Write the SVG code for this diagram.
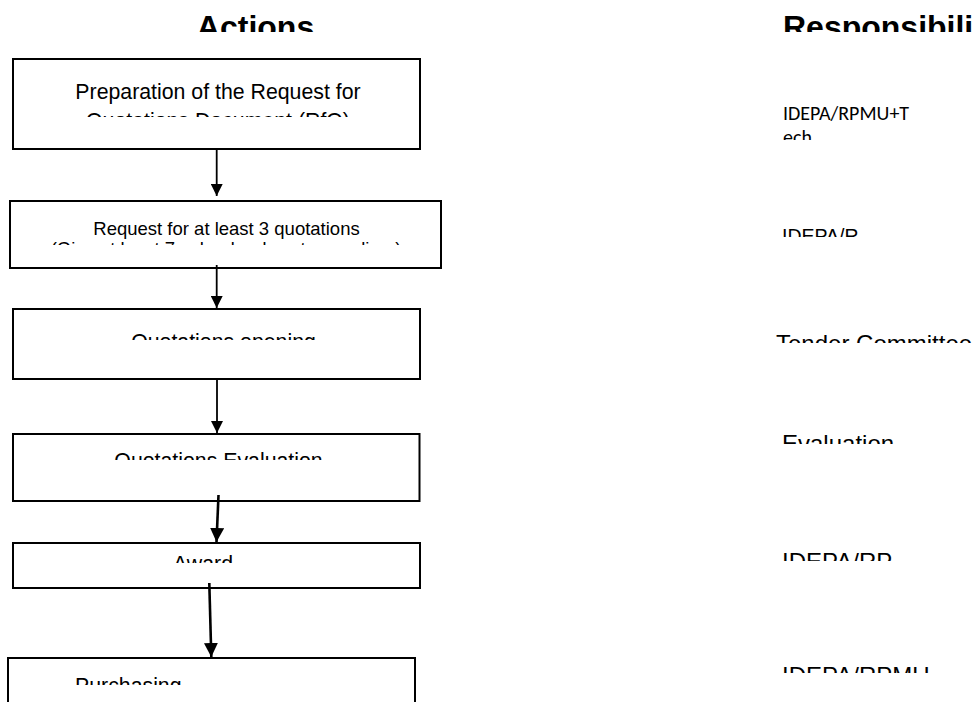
<svg xmlns="http://www.w3.org/2000/svg" width="978" height="702" viewBox="0 0 978 702">
  <style>
    .box { fill: #ffffff; stroke: #000000; stroke-width: 2; }
    .head { font-family: "Liberation Sans", Arial, sans-serif; font-weight: bold; font-size: 32px; fill: #000000; }
    .lbl { font-family: "Liberation Sans", Arial, sans-serif; font-size: 21.3px; fill: #000000; }
    .lbl-s { font-family: "Liberation Sans", Arial, sans-serif; font-size: 18.5px; fill: #000000; }
    .resp { font-family: "Liberation Sans", Arial, sans-serif; font-size: 24px; fill: #000000; }
    .resp-s { font-family: "Liberation Sans", Arial, sans-serif; font-size: 19.5px; fill: #000000; }
    .resp-c { font-family: Carlito, Lato, "Open Sans", sans-serif; font-size: 20px; fill: #000000; }
    .flow { fill: none; stroke: #000000; stroke-width: 1.8; marker-end: url(#head); }
    .flow-b { fill: none; stroke: #000000; stroke-width: 2.6; marker-end: url(#head-b); }
  </style>
  <defs>
    <marker id="head" viewBox="0 0 12 12" refX="12" refY="6" markerWidth="12" markerHeight="12" markerUnits="userSpaceOnUse" orient="auto">
      <path d="M0,0 L12,6 L0,12 Z" fill="#000000"/>
    </marker>
    <marker id="head-b" viewBox="0 0 12 12" refX="12" refY="6" markerWidth="14" markerHeight="14" markerUnits="userSpaceOnUse" orient="auto">
      <path d="M0,0 L12,6 L0,12 Z" fill="#000000"/>
    </marker>
    <!-- text frames that cut off overflowing lines -->
    <clipPath id="c-head" clipPathUnits="userSpaceOnUse"><rect x="0" y="0" width="978" height="32"/></clipPath>
    <clipPath id="c-n1" clipPathUnits="userSpaceOnUse"><rect x="0" y="0" width="978" height="117"/></clipPath>
    <clipPath id="c-n2" clipPathUnits="userSpaceOnUse"><rect x="0" y="0" width="978" height="245"/></clipPath>
    <clipPath id="c-n3" clipPathUnits="userSpaceOnUse"><rect x="0" y="0" width="978" height="340"/></clipPath>
    <clipPath id="c-n4" clipPathUnits="userSpaceOnUse"><rect x="0" y="0" width="978" height="460"/></clipPath>
    <clipPath id="c-n5" clipPathUnits="userSpaceOnUse"><rect x="0" y="0" width="978" height="563"/></clipPath>
    <clipPath id="c-n6" clipPathUnits="userSpaceOnUse"><rect x="0" y="0" width="978" height="685"/></clipPath>
    <clipPath id="c-r1" clipPathUnits="userSpaceOnUse"><rect x="0" y="0" width="978" height="140"/></clipPath>
    <clipPath id="c-r2" clipPathUnits="userSpaceOnUse"><rect x="0" y="0" width="978" height="237"/></clipPath>
    <clipPath id="c-r3" clipPathUnits="userSpaceOnUse"><rect x="0" y="0" width="978" height="343"/></clipPath>
    <clipPath id="c-r4" clipPathUnits="userSpaceOnUse"><rect x="0" y="0" width="978" height="444"/></clipPath>
    <clipPath id="c-r5" clipPathUnits="userSpaceOnUse"><rect x="0" y="0" width="978" height="561"/></clipPath>
    <clipPath id="c-r6" clipPathUnits="userSpaceOnUse"><rect x="0" y="0" width="978" height="673"/></clipPath>
  </defs>

  <rect x="0" y="0" width="978" height="702" fill="#ffffff"/>

  <!-- column headings -->
  <g id="headings" clip-path="url(#c-head)">
    <text class="head" x="255.5" y="38" text-anchor="middle">Actions</text>
    <text class="head" x="783" y="38">Responsibili</text>
  </g>

  <!-- action steps -->
  <g id="step-rfq">
    <rect class="box" x="13" y="59" width="407" height="90"/>
    <g clip-path="url(#c-n1)">
      <text class="lbl" x="218" y="98.5" text-anchor="middle">Preparation of the Request for</text>
      <text class="lbl" x="218" y="127.5" text-anchor="middle">Quotations Document (RfQ)</text>
    </g>
  </g>

  <g id="step-request">
    <rect class="box" x="10" y="201" width="431" height="67"/>
    <g clip-path="url(#c-n2)">
      <text class="lbl-s" x="226.5" y="235" text-anchor="middle">Request for at least 3 quotations</text>
      <text class="lbl-s" x="226" y="255" text-anchor="middle">(Give at least 7 calendar days to suppliers)</text>
    </g>
  </g>

  <g id="step-opening">
    <rect class="box" x="13" y="309" width="407" height="70"/>
    <g clip-path="url(#c-n3)">
      <text class="lbl" x="223.5" y="348.5" text-anchor="middle">Quotations opening</text>
    </g>
  </g>

  <g id="step-evaluation">
    <rect class="box" x="13" y="434" width="406.5" height="67"/>
    <g clip-path="url(#c-n4)">
      <text class="lbl" x="218.5" y="467.5" text-anchor="middle">Quotations Evaluation</text>
    </g>
  </g>

  <g id="step-award">
    <rect class="box" x="13" y="543" width="407" height="45"/>
    <g clip-path="url(#c-n5)">
      <text class="lbl" x="203" y="570.5" text-anchor="middle">Award</text>
    </g>
  </g>

  <g id="step-purchasing">
    <rect class="box" x="8" y="658" width="407" height="60"/>
    <g clip-path="url(#c-n6)">
      <text class="lbl" x="75" y="692.5">Purchasing</text>
    </g>
  </g>

  <!-- responsibilities -->
  <g id="resp-rfq" clip-path="url(#c-r1)">
    <text class="resp-c" x="783" y="120">IDEPA/RPMU+T</text>
    <text class="resp-c" x="783" y="143.5">ech</text>
  </g>
  <g id="resp-request" clip-path="url(#c-r2)">
    <text class="resp-s" x="782" y="243">IDEPA/R</text>
  </g>
  <g id="resp-opening" clip-path="url(#c-r3)">
    <text class="resp" x="776" y="352">Tender Committee</text>
  </g>
  <g id="resp-evaluation" clip-path="url(#c-r4)">
    <text class="resp" x="782" y="452">Evaluation</text>
  </g>
  <g id="resp-award" clip-path="url(#c-r5)">
    <text class="resp" x="782" y="570">IDEPA/RP</text>
  </g>
  <g id="resp-purchasing" clip-path="url(#c-r6)">
    <text class="resp" x="782" y="684">IDEPA/RPMU</text>
  </g>

  <!-- connectors -->
  <g id="connectors">
    <line class="flow" x1="216.7" y1="150" x2="216.7" y2="196"/>
    <line class="flow" x1="216.7" y1="265" x2="216.7" y2="308"/>
    <line class="flow" x1="217" y1="380" x2="217" y2="433"/>
    <line class="flow-b" x1="218.5" y1="495" x2="216.5" y2="542"/>
    <line class="flow-b" x1="209.3" y1="583" x2="211.3" y2="657"/>
  </g>
</svg>
